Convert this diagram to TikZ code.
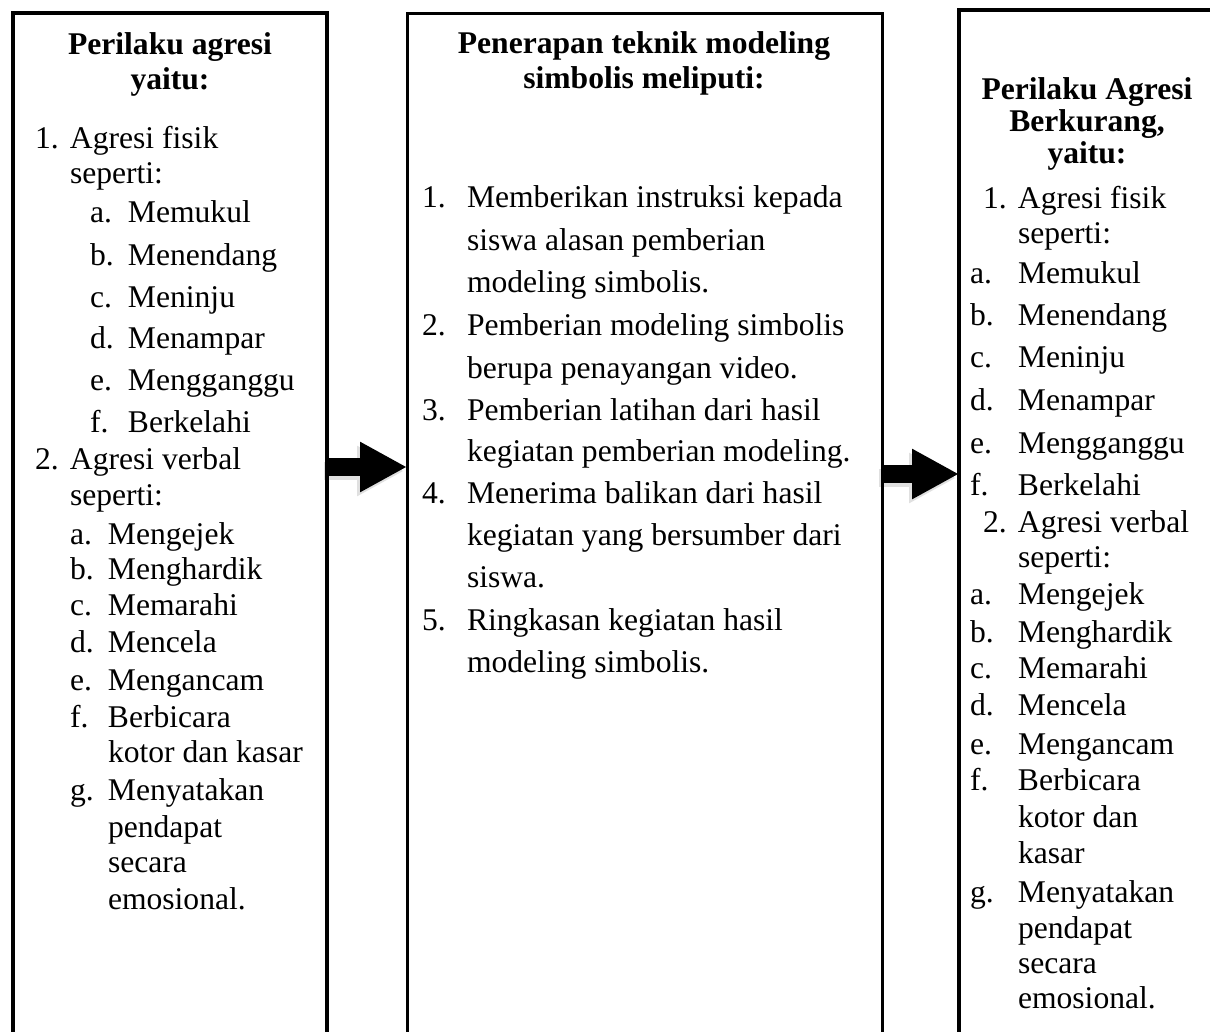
\documentclass[tikz,border=0pt]{standalone}
\usepackage{fontspec}
\setmainfont{Liberation Serif}
\usetikzlibrary{arrows.meta}
\tikzset{
  box/.style={draw=black, fill=none, inner sep=0pt, outer sep=0pt, anchor=north west},
  txt/.style={inner sep=0pt, outer sep=0pt, anchor=base west, font=\fontsize{31.6pt}{38pt}\selectfont},
  ttl/.style={inner sep=0pt, outer sep=0pt, anchor=base, font=\fontsize{31.6pt}{38pt}\selectfont\bfseries},
  bigarrow/.style={line width=18pt, -{Triangle[length=47pt,width=47pt]}},
  shadowarrow/.style={line width=18pt, -{Triangle[length=47pt,width=47pt]}, draw=black!12}
}
\newcommand{\lab}[2]{\makebox[#1][l]{#2}}
\begin{document}
\begin{tikzpicture}[x=1pt,y=-1pt]
\useasboundingbox (0,0) rectangle (1210,1031);
\clip (0,0) rectangle (1210,1031);
\fill[white] (0,0) rectangle (1210,1031);

% boxes
\node[box, line width=4pt, minimum width=314pt, minimum height=1100pt] (L) at (13,13) {};
\node[box, line width=3pt, minimum width=475pt, minimum height=1100pt] (M) at (407,13) {};
\node[box, line width=3.5pt, minimum width=300pt, minimum height=1100pt] (R) at (959,10) {};

% arrows
\coordinate (y1) at (0,467);
\coordinate (y2) at (0,474);
\coordinate (y1s) at (0,471);
\coordinate (y2s) at (0,478);
\draw[shadowarrow] ([xshift=-3pt]L.east |- y1s) -- ([xshift=-3pt]M.west |- y1s);
\draw[shadowarrow] ([xshift=-3pt]M.east |- y2s) -- ([xshift=-3pt]R.west |- y2s);
\draw[bigarrow] (L.east |- y1) -- (M.west |- y1);
\draw[bigarrow] (M.east |- y2) -- (R.west |- y2);
% redraw box lines over the shadows
\draw[line width=4pt] (L.north east) -- (L.south east);
\draw[line width=3pt] (M.north east) -- (M.south east);

% left column
\node[ttl] (lt1) at (170,54) {Perilaku agresi};
\node[ttl] (lt2) at (170,89) {yaitu:};
\node[txt] (l1) at (35,148) {\lab{35pt}{1.}Agresi fisik};
\node[txt] (l2) at (70,183) {seperti:};
\node[txt] (l3) at (90,222) {\lab{38pt}{a.}Memukul};
\node[txt] (l4) at (90,265) {\lab{38pt}{b.}Menendang};
\node[txt] (l5) at (90,307) {\lab{38pt}{c.}Meninju};
\node[txt] (l6) at (90,348) {\lab{38pt}{d.}Menampar};
\node[txt] (l7) at (90,390) {\lab{38pt}{e.}Mengganggu};
\node[txt] (l8) at (90,432) {\lab{38pt}{f.}Berkelahi};
\node[txt] (l9) at (35,469) {\lab{35pt}{2.}Agresi verbal};
\node[txt] (l10) at (70,505) {seperti:};
\node[txt] (l11) at (70,544) {\lab{38pt}{a.}Mengejek};
\node[txt] (l12) at (70,579) {\lab{38pt}{b.}Menghardik};
\node[txt] (l13) at (70,615) {\lab{38pt}{c.}Memarahi};
\node[txt] (l14) at (70,652) {\lab{38pt}{d.}Mencela};
\node[txt] (l15) at (70,690) {\lab{38pt}{e.}Mengancam};
\node[txt] (l16) at (70,727) {\lab{38pt}{f.}Berbicara};
\node[txt] (l17) at (108,762) {kotor dan kasar};
\node[txt] (l18) at (70,800) {\lab{38pt}{g.}Menyatakan};
\node[txt] (l19) at (108,837) {pendapat};
\node[txt] (l20) at (108,872) {secara};
\node[txt] (l21) at (108,909) {emosional.};

% middle column
\node[ttl] (mt1) at (644,53) {Penerapan teknik modeling};
\node[ttl] (mt2) at (644,88) {simbolis meliputi:};
\node[txt] (m1) at (422,207) {\lab{45pt}{1.}Memberikan instruksi kepada};
\node[txt] (m2) at (467,250) {siswa alasan pemberian};
\node[txt] (m3) at (467,292) {modeling simbolis.};
\node[txt] (m4) at (422,335) {\lab{45pt}{2.}Pemberian modeling simbolis};
\node[txt] (m5) at (467,378) {berupa penayangan video.};
\node[txt] (m6) at (422,420) {\lab{45pt}{3.}Pemberian latihan dari hasil};
\node[txt] (m7) at (467,461) {kegiatan pemberian modeling.};
\node[txt] (m8) at (422,503) {\lab{45pt}{4.}Menerima balikan dari hasil};
\node[txt] (m9) at (467,545) {kegiatan yang bersumber dari};
\node[txt] (m10) at (467,587) {siswa.};
\node[txt] (m11) at (422,630) {\lab{45pt}{5.}Ringkasan kegiatan hasil};
\node[txt] (m12) at (467,672) {modeling simbolis.};

% right column
\node[ttl] (rt1) at (1087,99) {Perilaku Agresi};
\node[ttl] (rt2) at (1087,131) {Berkurang,};
\node[ttl] (rt3) at (1087,163) {yaitu:};
\node[txt] (r1) at (983,208) {\lab{35pt}{1.}Agresi fisik};
\node[txt] (r2) at (1018,243) {seperti:};
\node[txt] (r3) at (970,283) {\lab{48pt}{a.}Memukul};
\node[txt] (r4) at (970,325) {\lab{48pt}{b.}Menendang};
\node[txt] (r5) at (970,367) {\lab{48pt}{c.}Meninju};
\node[txt] (r6) at (970,410) {\lab{48pt}{d.}Menampar};
\node[txt] (r7) at (970,453) {\lab{48pt}{e.}Mengganggu};
\node[txt] (r8) at (970,495) {\lab{48pt}{f.}Berkelahi};
\node[txt] (r9) at (983,532) {\lab{35pt}{2.}Agresi verbal};
\node[txt] (r10) at (1018,567) {seperti:};
\node[txt] (r11) at (970,604) {\lab{48pt}{a.}Mengejek};
\node[txt] (r12) at (970,642) {\lab{48pt}{b.}Menghardik};
\node[txt] (r13) at (970,678) {\lab{48pt}{c.}Memarahi};
\node[txt] (r14) at (970,715) {\lab{48pt}{d.}Mencela};
\node[txt] (r15) at (970,754) {\lab{48pt}{e.}Mengancam};
\node[txt] (r16) at (970,790) {\lab{48pt}{f.}Berbicara};
\node[txt] (r17) at (1018,827) {kotor dan};
\node[txt] (r18) at (1018,863) {kasar};
\node[txt] (r19) at (970,902) {\lab{48pt}{g.}Menyatakan};
\node[txt] (r20) at (1018,938) {pendapat};
\node[txt] (r21) at (1018,973) {secara};
\node[txt] (r22) at (1018,1008) {emosional.};
\end{tikzpicture}
\end{document}
